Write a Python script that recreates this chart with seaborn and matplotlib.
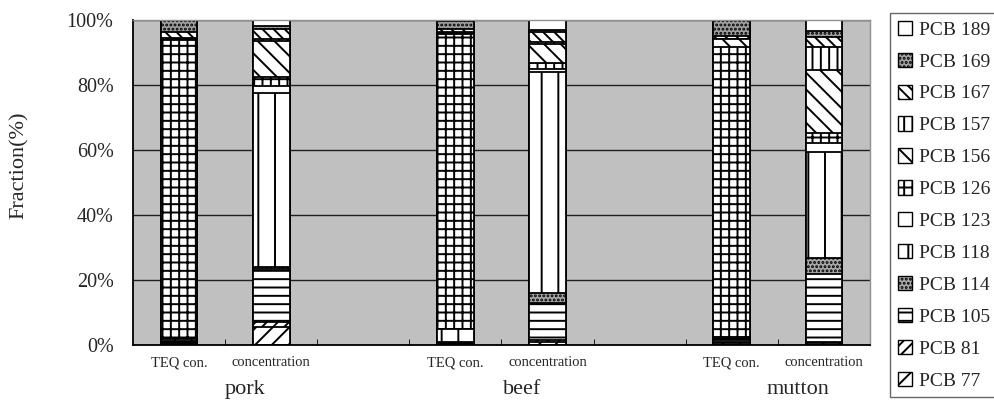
import numpy as np
import pandas as pd
import seaborn as sns
import matplotlib
matplotlib.use('Agg')
from matplotlib import pyplot as plt
from matplotlib.patches import Patch

meats = ['pork', 'beef', 'mutton']
bar_kinds = ['TEQ con.', 'concentration']
congeners = ['PCB 77', 'PCB 81', 'PCB 105', 'PCB 114', 'PCB 118', 'PCB 123',
             'PCB 126', 'PCB 156', 'PCB 157', 'PCB 167', 'PCB 169', 'PCB 189']

# fraction (%) per congener; bars: pork TEQ, pork conc, beef TEQ, beef conc, mutton TEQ, mutton conc
pcb77 = [0.3, 5.6, 0.2, 1.0, 0.5, 0.6]
pcb81 = [0.2, 1.4, 0.1, 0.5, 0.3, 0.4]
pcb105 = [0.5, 16.3, 0.3, 11.3, 0.8, 20.8]
pcb114 = [0.3, 0.8, 0.4, 3.3, 0.3, 4.9]
pcb118 = [0.4, 53.5, 3.9, 67.8, 0.4, 32.6]
pcb123 = [0.3, 2.2, 0.1, 1.1, 0.3, 2.8]
pcb126 = [91.9, 2.8, 90.8, 1.7, 89.2, 3.0]
pcb156 = [0.3, 11.0, 0.3, 5.8, 2.4, 19.5]
pcb157 = [0.2, 0.6, 0.1, 0.8, 0.0, 7.2]
pcb167 = [1.8, 3.0, 1.0, 3.0, 1.0, 3.1]
pcb169 = [3.7, 1.0, 2.6, 0.6, 4.8, 1.7]
pcb189 = [0.1, 1.8, 0.2, 3.1, 0.0, 3.4]

series = [pcb77, pcb81, pcb105, pcb114, pcb118, pcb123,
          pcb126, pcb156, pcb157, pcb167, pcb169, pcb189]

# fill style for each congener (face colour, hatch)
styles = {
    'PCB 77': ('white', '//'),
    'PCB 81': ('white', '///'),
    'PCB 105': ('white', '--'),
    'PCB 114': ('#a8a8a8', '....'),
    'PCB 118': ('white', '|'),
    'PCB 123': ('white', ''),
    'PCB 126': ('white', '++'),
    'PCB 156': ('white', '\\\\'),
    'PCB 157': ('white', '||'),
    'PCB 167': ('white', '\\\\\\'),
    'PCB 169': ('#a0a0a0', '....'),
    'PCB 189': ('white', ''),
}

slots = [m + '|' + k for m in meats for k in bar_kinds]
order = []
for i, m in enumerate(meats):
    order += [m + '|' + k for k in bar_kinds]
    if i < len(meats) - 1:
        order.append('gap%d' % i)

sns.set_style('ticks')
plt.rcParams['font.family'] = ['Liberation Serif', 'DejaVu Serif']
plt.rcParams['hatch.linewidth'] = 1.4

fig = plt.figure(figsize=(9.95, 4.0), dpi=100)
ax = fig.add_axes([133 / 995, 55 / 400, 737 / 995, 325 / 400])
ax.set_facecolor('#c0c0c0')

cum = np.cumsum(np.array(series), axis=0)
# draw from the top of the stack down so each layer covers the one above
for i in range(len(congeners) - 1, -1, -1):
    fc, h = styles[congeners[i]]
    df = pd.DataFrame({'slot': slots, 'value': cum[i]})
    sns.barplot(data=df, x='slot', y='value', order=order, color=fc, saturation=1,
                edgecolor='black', linewidth=1.3, hatch=h, width=0.4,
                errorbar=None, ax=ax)

ax.set_ylim(0, 100)
ax.set_xlim(-0.5, len(order) - 0.5)
ax.set_yticks(range(0, 101, 20))
ax.set_yticklabels(['%d%%' % v for v in range(0, 101, 20)], fontsize=14.5)
ax.tick_params(axis='y', length=0, pad=14)

ticklabels = [s.split('|')[1] if '|' in s else '' for s in order]
ax.set_xticks(range(len(order)))
ax.set_xticklabels(ticklabels, fontsize=10.5)
ax.set_xticks(np.arange(0.5, len(order) - 0.5, 1), minor=True)
ax.tick_params(axis='x', which='major', length=0, pad=8)
ax.tick_params(axis='x', which='minor', length=4, direction='in', color='black')
ax.set_xlabel('')
ax.set_ylabel('')

ax.yaxis.grid(True, color='#202020', linewidth=1)
ax.set_axisbelow(True)
for side in ['left', 'bottom']:
    ax.spines[side].set_color('black')
    ax.spines[side].set_linewidth(1.3)
for side in ['top', 'right']:
    ax.spines[side].set_visible(True)
    ax.spines[side].set_color('#909090')
    ax.spines[side].set_linewidth(1)

for g, m in enumerate(meats):
    ax.text(3 * g + 0.72, -0.138, m, transform=ax.get_xaxis_transform(),
            ha='center', va='center', fontsize=16)

fig.text(19 / 995, 1 - 165 / 400, 'Fraction(%)', rotation=90,
         ha='center', va='center', fontsize=16)

handles = []
for c in reversed(congeners):
    fc, h = styles[c]
    handles.append(Patch(facecolor=fc, edgecolor='black', hatch=h, label=c))
leg = fig.legend(handles=handles, loc='upper left', bbox_to_anchor=(890 / 995, 1 - 13 / 400),
                 frameon=True, fancybox=False, edgecolor='#404040', fontsize=14,
                 handlelength=0.75, handleheight=0.75, handletextpad=0.35,
                 labelspacing=0.72, borderpad=0.4, borderaxespad=0)
leg.get_frame().set_linewidth(1)

fig.savefig('out.png', dpi=100)
